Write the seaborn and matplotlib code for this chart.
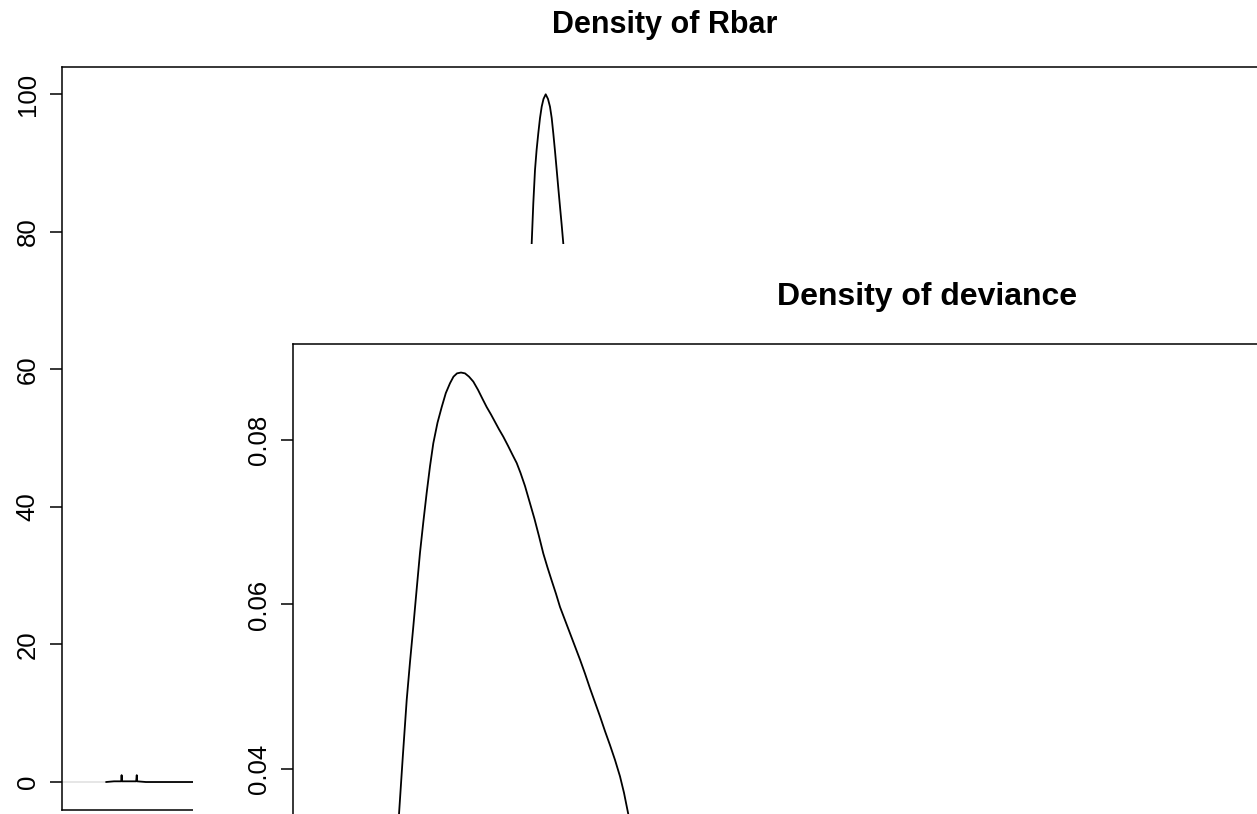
import matplotlib
matplotlib.use("Agg")
import matplotlib.pyplot as plt
from matplotlib.patches import Rectangle
import seaborn as sns

# ---- data ----
rbar_x = [0.3221, 0.3261, 0.3297, 0.3299, 0.3301, 0.3372, 0.3375, 0.3377, 0.3421,
          0.3692, 0.4696, 0.5097, 0.5248, 0.5308,
          0.53563, 0.53604, 0.53644, 0.53729, 0.53809, 0.53894, 0.53980, 0.54065,
          0.54155, 0.54266, 0.54381, 0.54481, 0.54567, 0.54647, 0.54732, 0.54818,
          0.54898, 0.54983, 0.55068, 0.55148,
          0.5574, 0.5649, 0.5799, 0.6703, 0.9500]
rbar_density = [0.0, 0.1, 0.1, 1.0, 0.1, 0.1, 1.0, 0.1, 0.0,
                0.0, 0.0, 1.0, 20.0, 50.0,
                78.33, 81.29, 84.15, 88.99, 91.90, 94.33, 96.55, 98.20,
                99.32, 100.0, 99.32, 98.20, 96.55, 94.33, 91.76, 88.99,
                86.37, 83.66, 81.00, 78.33,
                50.0, 15.0, 0.5, 0.0, 0.0]
rbar_floor_x = [0.300, 0.3221]
rbar_floor_y = [0.0, 0.0]

deviance_x = [30.15, 30.60, 30.98, 31.37, 31.70, 32.03, 32.37, 32.70, 33.03, 33.37,
              33.70, 34.03, 34.45, 34.87, 35.28, 35.70, 36.05, 36.40, 36.80, 37.20,
              37.60, 38.03, 38.50, 38.95, 39.37, 39.80, 40.20, 40.60, 41.03, 41.50,
              41.95, 42.37, 42.75, 43.20, 43.70, 44.15, 44.60, 45.03, 45.45, 45.87,
              46.30, 46.70, 47.20, 47.70, 48.20, 48.70, 49.20, 49.70, 50.20, 50.70,
              51.20, 51.70, 52.20, 52.70, 53.10, 53.53, 54.20]
deviance_density = [0.0265, 0.0345, 0.0415, 0.0484, 0.0530, 0.0573, 0.0619, 0.0663,
                    0.0700, 0.0736, 0.0768, 0.0796, 0.0821, 0.0840, 0.0857, 0.0869,
                    0.0877, 0.0881, 0.0882, 0.0881, 0.0877, 0.0871, 0.0861, 0.0850,
                    0.0840, 0.0831, 0.0822, 0.0813, 0.0804, 0.0793, 0.0782, 0.0772,
                    0.0760, 0.0744, 0.0723, 0.0704, 0.0683, 0.0662, 0.0645, 0.0629,
                    0.0613, 0.0597, 0.0581, 0.0565, 0.0549, 0.0533, 0.0516, 0.0498,
                    0.0481, 0.0464, 0.0446, 0.0429, 0.0411, 0.0391, 0.0371, 0.0345,
                    0.0295]

rbar_ticks = [0, 20, 40, 60, 80, 100]
rbar_tick_labels = ["0", "20", "40", "60", "80", "100"]
dev_ticks = [0.04, 0.06, 0.08]
dev_tick_labels = ["0.04", "0.06", "0.08"]
titles = ["Density of Rbar", "Density of deviance"]

# ---- style ----
sns.set_style("white")
plt.rcParams['font.family'] = ['Liberation Sans', 'DejaVu Sans']
plt.rcParams['text.color'] = 'black'

W, H = 1257, 814
fig = plt.figure(figsize=(W / 100, H / 100), dpi=100)
fig.patch.set_facecolor("white")


def fx(px):
    return px / W


def fy(py):
    return 1 - py / H


LW = 1.3


def style_axes(ax, ticks, labels):
    for s in ax.spines.values():
        s.set_visible(True)
        s.set_color("black")
        s.set_linewidth(1.1)
    ax.set_xticks([])
    ax.set_yticks(ticks, labels)
    ax.tick_params(axis="y", left=True, direction="out", length=8.6, width=1.1,
                   color="black", labelsize=18.5, pad=7.5, labelcolor="black")
    for lab in ax.get_yticklabels():
        lab.set_rotation(90)
        lab.set_va("center")
    ax.set_xlabel("")
    ax.set_ylabel("")


# ---- first panel: Rbar ----
ax1 = fig.add_axes([fx(62), fy(810), (1258 - 62) / W, (810 - 67) / H])
ax1.set_facecolor("white")
sns.lineplot(x=rbar_floor_x, y=rbar_floor_y, ax=ax1, color="#e4e4e4",
             linewidth=LW, estimator=None, sort=False)
sns.lineplot(x=rbar_x, y=rbar_density, ax=ax1, color="black",
             linewidth=LW, estimator=None, sort=False)
ax1.set_xlim(0.3, 0.9)
ax1.set_ylim(-4.07, 103.97)
style_axes(ax1, rbar_ticks, rbar_tick_labels)
ax1.set_zorder(0)

# white region of the second plot drawn over the first
cover = Rectangle((fx(193), 0), 1.0, fy(244), transform=fig.transFigure,
                  facecolor="white", edgecolor="none", zorder=1)
fig.add_artist(cover)

# ---- second panel: deviance ----
ax2 = fig.add_axes([fx(293), fy(900), (1563 - 293) / W, (900 - 344) / H])
ax2.set_facecolor("white")
sns.lineplot(x=deviance_x, y=deviance_density, ax=ax2, color="black",
             linewidth=LW, estimator=None, sort=False)
ax2.set_xlim(20, 147)
ax2.set_ylim(0.02407, 0.09167)
style_axes(ax2, dev_ticks, dev_tick_labels)
ax2.set_zorder(2)

fig.text(fx(665), fy(33), titles[0], ha="center", va="baseline", color="black",
         fontsize=22, fontweight="bold", zorder=3)
fig.text(fx(927), fy(305), titles[1], ha="center", va="baseline", color="black",
         fontsize=23, fontweight="bold", zorder=3)

fig.savefig("out.png", dpi=100, facecolor="white")
